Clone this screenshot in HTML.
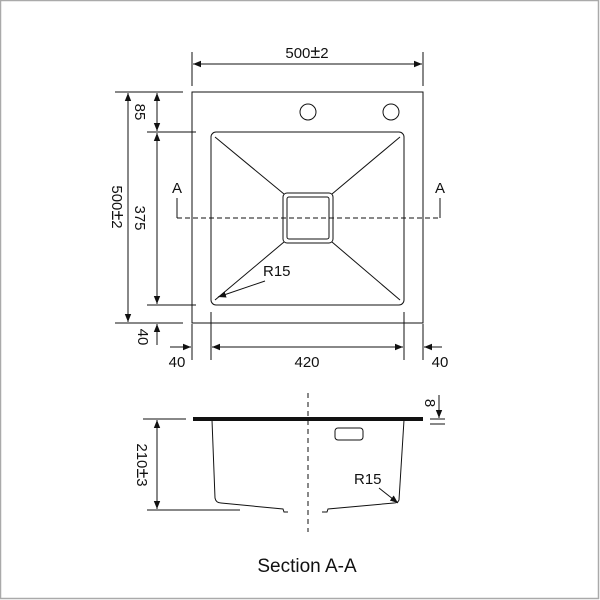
<!DOCTYPE html>
<html><head><meta charset="utf-8"><style>
html,body{margin:0;padding:0;background:#fff;}
svg{display:block;}
text{font-family:"Liberation Sans",Arial,sans-serif;fill:#111;}
</style></head><body>
<svg width="600" height="600" viewBox="0 0 600 600" xmlns="http://www.w3.org/2000/svg">
<defs>
<marker id="ar" viewBox="0 0 10 10" refX="10" refY="5" markerWidth="8" markerHeight="8" markerUnits="userSpaceOnUse" orient="auto-start-reverse">
<path d="M0,1 L10,5 L0,9 z" fill="#111"/></marker>
</defs>
<rect x="0.5" y="0.5" width="598" height="598" fill="none" stroke="#aaa" stroke-width="1.5"/>
<g stroke="#111" stroke-width="1" fill="none">
<rect x="192" y="92" width="231" height="231"/>
<circle cx="308" cy="112" r="8"/>
<circle cx="391" cy="112" r="8"/>
<rect x="211" y="132" width="193" height="173" rx="5"/>
<rect x="283" y="193" width="50" height="50" rx="4"/>
<rect x="287" y="197" width="42" height="42" rx="2"/>
<line x1="215" y1="137" x2="284" y2="194"/>
<line x1="400" y1="137" x2="332" y2="194"/>
<line x1="215" y1="300" x2="284" y2="242"/>
<line x1="400" y1="300" x2="332" y2="242"/>
<line x1="177" y1="218" x2="440" y2="218" stroke-dasharray="5,3"/>
<line x1="177" y1="198" x2="177" y2="218"/>
<line x1="440" y1="198" x2="440" y2="218"/>
<line x1="265" y1="281" x2="218" y2="297" marker-end="url(#ar)"/>
<line x1="192" y1="52" x2="192" y2="86"/>
<line x1="423" y1="52" x2="423" y2="86"/>
<line x1="193" y1="64" x2="422" y2="64" marker-start="url(#ar)" marker-end="url(#ar)"/>
<line x1="115" y1="92" x2="183" y2="92"/>
<line x1="115" y1="323" x2="183" y2="323"/>
<line x1="147" y1="132" x2="196" y2="132"/>
<line x1="147" y1="305" x2="196" y2="305"/>
<line x1="128" y1="93" x2="128" y2="322" marker-start="url(#ar)" marker-end="url(#ar)"/>
<line x1="157" y1="93" x2="157" y2="131" marker-start="url(#ar)" marker-end="url(#ar)"/>
<line x1="157" y1="133" x2="157" y2="304" marker-start="url(#ar)" marker-end="url(#ar)"/>
<line x1="157" y1="345" x2="157" y2="324" marker-end="url(#ar)"/>
<line x1="192" y1="324" x2="192" y2="360"/>
<line x1="211" y1="312" x2="211" y2="360"/>
<line x1="404" y1="312" x2="404" y2="360"/>
<line x1="423" y1="324" x2="423" y2="360"/>
<line x1="170" y1="347" x2="191" y2="347" marker-end="url(#ar)"/>
<line x1="212" y1="347" x2="403" y2="347" marker-start="url(#ar)" marker-end="url(#ar)"/>
<line x1="442" y1="347" x2="424" y2="347" marker-end="url(#ar)"/>
<line x1="308" y1="393" x2="308" y2="532" stroke-dasharray="5,4"/>
<path d="M212,420 L215,498 Q216,503 221,503 L283,509 L284,512 L288,512"/>
<path d="M404,420 L399,500 Q398,503 394,503 L328,509 L327,512 L322,512"/>
<rect x="335" y="428" width="28" height="12" rx="3"/>
<line x1="143" y1="419" x2="186" y2="419"/>
<line x1="147" y1="510" x2="240" y2="510"/>
<line x1="157" y1="420" x2="157" y2="509" marker-start="url(#ar)" marker-end="url(#ar)"/>
<line x1="439" y1="395" x2="439" y2="418" marker-end="url(#ar)"/>
<line x1="430" y1="419" x2="445" y2="419"/>
<line x1="430" y1="424" x2="445" y2="424"/>
<line x1="379" y1="488" x2="398" y2="503" marker-end="url(#ar)"/>
</g>
<rect x="193" y="417" width="230" height="4" fill="#111"/>
<g font-size="15">
<text x="307" y="58" text-anchor="middle">500<tspan font-size="18">±</tspan>2</text>
<text x="177" y="193" text-anchor="middle">A</text>
<text x="440" y="193" text-anchor="middle">A</text>
<text x="263" y="276">R15</text>
<text x="177" y="367" text-anchor="middle">40</text>
<text x="307" y="367" text-anchor="middle">420</text>
<text x="440" y="367" text-anchor="middle">40</text>
<text transform="translate(112,207) rotate(90)" text-anchor="middle">500<tspan font-size="18">±</tspan>2</text>
<text transform="translate(135,112) rotate(90)" text-anchor="middle">85</text>
<text transform="translate(135,218) rotate(90)" text-anchor="middle">375</text>
<text transform="translate(138,337) rotate(90)" text-anchor="middle">40</text>
<text transform="translate(137,465) rotate(90)" text-anchor="middle">210<tspan font-size="18">±</tspan>3</text>
<text transform="translate(425,403) rotate(90)" text-anchor="middle">8</text>
<text x="354" y="484">R15</text>
</g>
<text x="307" y="572" text-anchor="middle" font-size="19">Section A-A</text>
</svg>
</body></html>
